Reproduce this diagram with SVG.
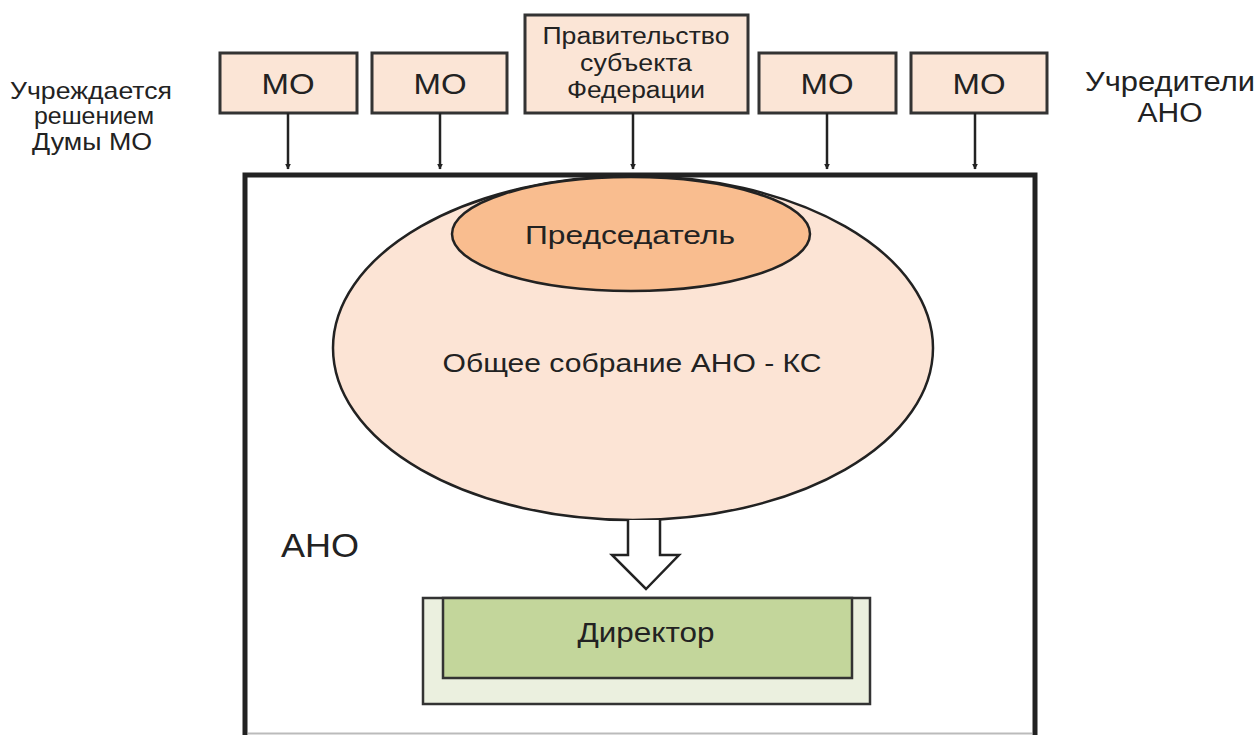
<svg xmlns="http://www.w3.org/2000/svg" width="1258" height="735" viewBox="0 0 1258 735">
<style>
text{font-family:"Liberation Sans",Arial,sans-serif;fill:#222;text-anchor:middle}
.mo{fill:#fbe5d6;stroke:#333;stroke-width:3}
.lbl{font-size:24px}
.m{font-size:30px}
.gv{font-size:23px}
.con{stroke:#222;stroke-width:2.5;fill:none;marker-end:url(#ah)}
</style>
<defs>
<marker id="ah" viewBox="0 0 10 10" refX="9" refY="5" markerWidth="6" markerHeight="6" orient="auto" markerUnits="userSpaceOnUse">
<path d="M0,0 L10,5 L0,10 z" fill="#222"/>
</marker>
</defs>
<rect width="1258" height="735" fill="#fff"/>
<g id="labels">
<text class="lbl" x="91" y="99" textLength="162" lengthAdjust="spacingAndGlyphs">Учреждается</text>
<text class="lbl" x="94" y="124" textLength="120" lengthAdjust="spacingAndGlyphs">решением</text>
<text class="lbl" x="92" y="150" textLength="120" lengthAdjust="spacingAndGlyphs">Думы МО</text>
<text x="1170" y="91" font-size="27" textLength="170" lengthAdjust="spacingAndGlyphs">Учредители</text>
<text x="1170" y="122" font-size="27" textLength="65" lengthAdjust="spacingAndGlyphs">АНО</text>
</g>
<g id="ano">
<rect x="245" y="175" width="790" height="570" fill="#fff" stroke="#222" stroke-width="5"/>
<line x1="248" y1="733.5" x2="1032" y2="733.5" stroke="#bbb" stroke-width="2"/>
<text x="320" y="557" font-size="33" textLength="78" lengthAdjust="spacingAndGlyphs">АНО</text>
</g>
<g id="mo1"><rect class="mo" x="220" y="53" width="137" height="60"/><text class="m" x="288" y="94" textLength="53" lengthAdjust="spacingAndGlyphs">МО</text></g>
<g id="mo2"><rect class="mo" x="372" y="53" width="135" height="60"/><text class="m" x="440" y="94" textLength="53" lengthAdjust="spacingAndGlyphs">МО</text></g>
<g id="gov"><rect class="mo" x="525" y="15" width="223" height="98"/>
<text class="gv" x="636" y="44" textLength="187" lengthAdjust="spacingAndGlyphs">Правительство</text>
<text class="gv" x="636" y="71" textLength="112" lengthAdjust="spacingAndGlyphs">субъекта</text>
<text class="gv" x="636" y="98" textLength="138" lengthAdjust="spacingAndGlyphs">Федерации</text></g>
<g id="mo3"><rect class="mo" x="759" y="53" width="137" height="60"/><text class="m" x="827" y="94" textLength="53" lengthAdjust="spacingAndGlyphs">МО</text></g>
<g id="mo4"><rect class="mo" x="911" y="53" width="136" height="60"/><text class="m" x="979" y="94" textLength="53" lengthAdjust="spacingAndGlyphs">МО</text></g>
<g id="assembly">
<ellipse cx="633" cy="348" rx="300" ry="172" fill="#fce4d5" stroke="#222" stroke-width="2.5"/>
<text x="632" y="372" font-size="25" textLength="379" lengthAdjust="spacingAndGlyphs">Общее собрание АНО - КС</text>
</g>
<g id="chair">
<ellipse cx="631" cy="234" rx="179" ry="57" fill="#f9bd8f" stroke="#222" stroke-width="2.5"/>
<text x="630" y="244" font-size="26" textLength="210" lengthAdjust="spacingAndGlyphs">Председатель</text>
</g>
<g id="director">
<rect x="423" y="598" width="447" height="106" fill="#ebf0df" stroke="#333" stroke-width="2.5"/>
<rect x="443" y="598" width="409" height="80" fill="#c3d69b" stroke="#333" stroke-width="2.5"/>
<text x="646" y="642" font-size="27" textLength="137" lengthAdjust="spacingAndGlyphs">Директор</text>
</g>
<g id="connectors">
<line class="con" x1="288" y1="113" x2="288" y2="169"/>
<line class="con" x1="440" y1="113" x2="440" y2="169"/>
<line class="con" x1="633" y1="113" x2="633" y2="169"/>
<line class="con" x1="827" y1="113" x2="827" y2="169"/>
<line class="con" x1="975" y1="113" x2="975" y2="169"/>
<path d="M628,520 L628,555 L612,555 L646,589 L679,555 L660,555 L660,520" fill="#fff" stroke="#222" stroke-width="2.5" stroke-linejoin="miter"/>
</g>
</svg>
